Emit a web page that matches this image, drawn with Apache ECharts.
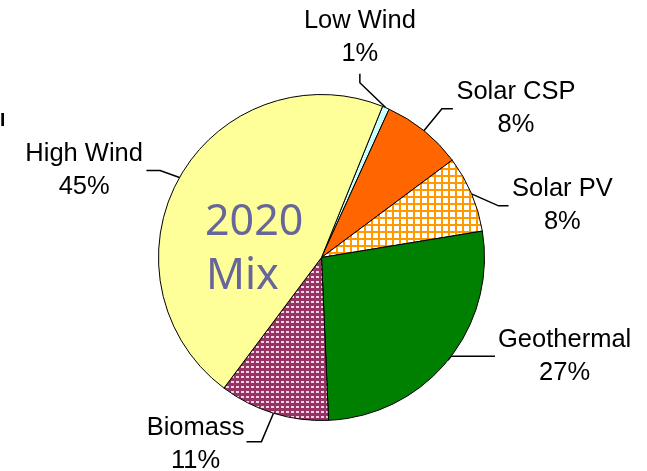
<!DOCTYPE html>
<html><head><meta charset="utf-8">
<script src="https://cdn.jsdelivr.net/npm/echarts@6/dist/echarts.min.js"></script>
<style>html,body{margin:0;padding:0;background:#fff}#c{width:647px;height:471px}</style>
</head><body><div id="c"></div>
<script>
// ---- data ----
const categories = ['Low Wind', 'Solar CSP', 'Solar PV', 'Geothermal', 'Biomass', 'High Wind'];
const shares = [0.7, 8.0, 7.6, 26.9, 10.9, 45.9];
const shareLabels = ['1%', '8%', '8%', '27%', '11%', '45%'];
const centerTitle = ['2020', 'Mix'];
const strayText = 'I';

// ---- styles ----
function makePattern(w, h, bg, draw) {
  const c = document.createElement('canvas');
  c.width = w; c.height = h;
  const g = c.getContext('2d');
  g.fillStyle = bg; g.fillRect(0, 0, w, h);
  draw(g);
  return { image: c, repeat: 'repeat' };
}
const pvPattern = makePattern(7, 7, '#ffffff', g => {
  g.fillStyle = '#ff9900'; g.fillRect(0, 0, 7, 2); g.fillRect(0, 0, 2, 7);
});
const bioPattern = makePattern(5, 5, '#993366', g => {
  g.fillStyle = 'rgba(255,255,255,0.8)'; g.fillRect(1, 1, 3, 2);
});
const sliceFills = ['#ccffff', '#ff6600', pvPattern, '#008000', bioPattern, '#ffff99'];

// leader-line offsets relative to the slice edge point computed by ECharts
const leaders = [
  { bend: [-26, -25], end: [-26, -34], dx: 0, dy: -3.5, align: 'center', va: 'bottom' },
  { bend: [18, -22], end: [29, -22], dx: 3.5, dy: 0, align: 'left', va: 'middle' },
  { bend: [27, 12], end: [37, 12], dx: 3.5, dy: 0, align: 'left', va: 'middle' },
  { bend: [3, -4], end: [47, -4], dx: 3, dy: 0, align: 'left', va: 'middle' },
  { bend: [-12, 28.4], end: [-27, 28.4], dx: -2, dy: 3, align: 'right', va: 'middle' },
  { bend: [-19.4, -7], end: [-33, -7], dx: -3.5, dy: 0, align: 'right', va: 'middle' }
];

const FONT = '"Liberation Sans", Arial, sans-serif';
const FS = 25.5;

const chart = echarts.init(document.getElementById('c'), null, { renderer: 'canvas' });
chart.setOption({
  animation: false,
  backgroundColor: '#ffffff',
  graphic: [
    { type: 'text', z: 100, left: 205, top: 201, style: { text: centerTitle[0], fontSize: 43, fontFamily: '"Noto Sans"', fill: '#66669a' } },
    { type: 'text', z: 100, left: 206, top: 255, style: { text: centerTitle[1], fontSize: 43, fontFamily: '"Noto Sans"', fill: '#66669a' } },
    { type: 'text', z: 100, left: 0, top: 111, style: { text: strayText, fontSize: 19, fontFamily: FONT, fontWeight: 'bold', fill: '#000' } }
  ],
  series: [{
    type: 'pie',
    center: [321.5, 257.5],
    radius: 163,
    startAngle: 68,
    clockwise: true,
    avoidLabelOverlap: false,
    silent: true,
    emphasis: { disabled: true },
    itemStyle: { borderColor: '#000', borderWidth: 1 },
    label: {
      show: true,
      position: 'outside',
      color: '#000',
      formatter: p => '{n|' + p.name + '}\n{p|' + shareLabels[p.dataIndex] + '}',
      rich: {
        n: { fontFamily: FONT, fontSize: FS, lineHeight: 33, align: 'center', color: '#000' },
        p: { fontFamily: FONT, fontSize: FS, lineHeight: 33, align: 'center', color: '#000' }
      }
    },
    labelLine: { show: true, length: 20, length2: 10, lineStyle: { color: '#000', width: 1.5 } },
    labelLayout: params => {
      const L = leaders[params.dataIndex];
      const pts = params.labelLinePoints;
      if (!pts) return {};
      const e = pts[0];
      const b = [e[0] + L.bend[0], e[1] + L.bend[1]];
      const t = [e[0] + L.end[0], e[1] + L.end[1]];
      return {
        x: t[0] + L.dx, y: t[1] + L.dy,
        align: L.align, verticalAlign: L.va,
        labelLinePoints: [e, b, t]
      };
    },
    data: categories.map((name, i) => ({
      name: name,
      value: shares[i],
      itemStyle: { color: sliceFills[i] }
    }))
  }]
});
</script>
</body></html>
